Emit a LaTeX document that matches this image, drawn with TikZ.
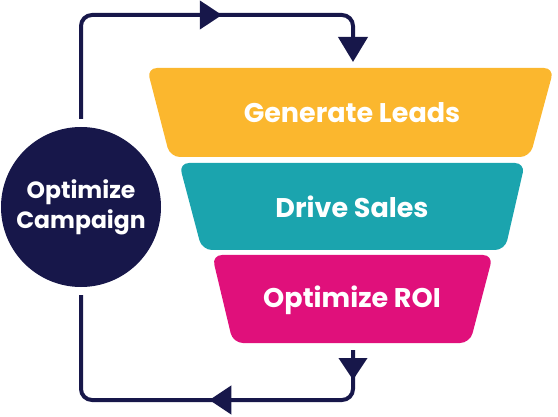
\documentclass[tikz,border=0pt]{standalone}
\usepackage{fontspec}
\setmainfont{Poppins}
\usetikzlibrary{arrows.meta,decorations.markings}

\definecolor{navy}{HTML}{17174A}
\definecolor{leadsyellow}{HTML}{FBB72E}
\definecolor{salesteal}{HTML}{1BA4AE}
\definecolor{roipink}{HTML}{E0107B}

\begin{document}
\begin{tikzpicture}[x=1pt,y=1pt,
  >={Triangle[length=22pt,width=28pt]},
  loopline/.style={draw=navy, line width=4pt, rounded corners=11pt},
  band/.style={rounded corners=10pt},
  bandtext/.style={text=white, font=\bfseries\fontsize{27}{30}\selectfont},
  arrowsat/.style 2 args={postaction={decorate},
    decoration={markings, mark=at position #1 with {\arrow{>}},
      mark=at position #2 with {\arrow{>}}}}]
\useasboundingbox (0,0) rectangle (558,416);

% Funnel bands
\fill[band, leadsyellow] (147,348) -- (554,348) -- (530,259) -- (170,259) -- cycle;
\fill[band, salesteal] (179,253) -- (525,253) -- (505,166) -- (202,166) -- cycle;
\fill[band, roipink] (212,161) -- (493,161) -- (470,73) -- (233,73) -- cycle;

% Band labels
\node[bandtext] (leads) at (352,303) {Generate Leads};
\node[bandtext] (sales) at (352,209) {Drive Sales};
\node[bandtext] (roi) at (352,116) {Optimize ROI};

% Campaign circle
\node[circle, fill=navy, minimum size=160pt, inner sep=0pt, align=center,
  text=white, font=\bfseries\fontsize{23.5}{30}\selectfont] (camp) at (81,209)
  {Optimize\\Campaign};

% Loop corners
\coordinate (topright) at (353,401);
\coordinate (leadsin) at (353,354);
\coordinate (roiout) at (353,66);
\coordinate (botright) at (353,16);

% Loop back into the funnel
\draw[loopline, shorten <=8pt, -{Triangle[length=25pt,width=29pt]},
  postaction={decorate}, decoration={markings, mark=at position 248pt with {\arrow{>}}}]
  (camp.north) |- (topright) -- (leadsin);
\draw[loopline, shorten >=8pt, arrowsat={30pt}{189pt}]
  (roiout) -- (botright) -| (camp.south);

\end{tikzpicture}
\end{document}
